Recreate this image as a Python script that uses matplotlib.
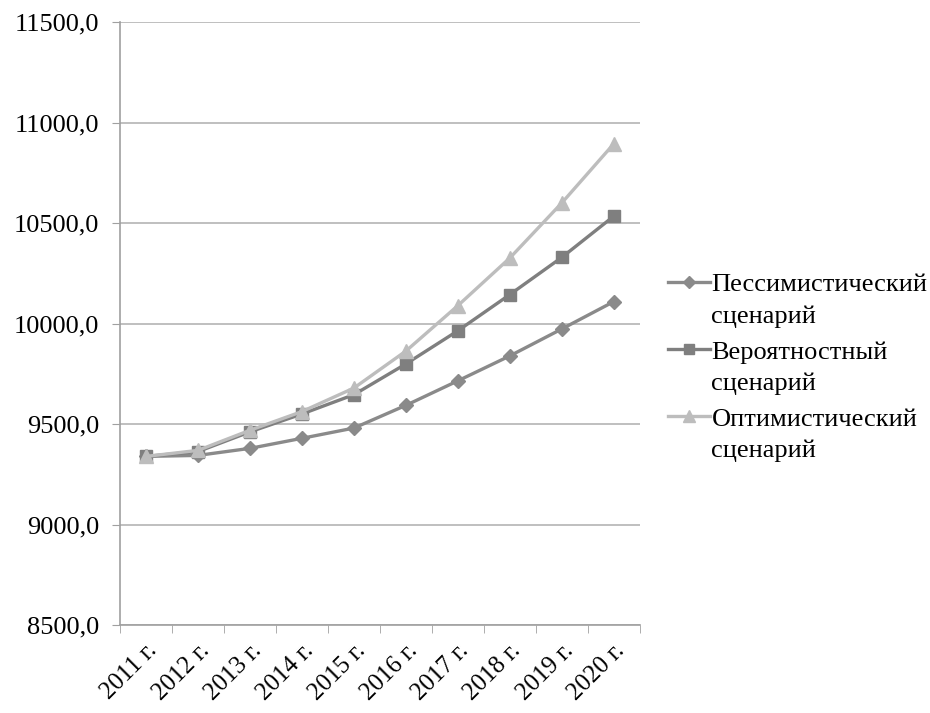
import numpy as np
import matplotlib
matplotlib.use('Agg')
import matplotlib.pyplot as plt
from matplotlib.legend_handler import HandlerLine2D

years = ['2011 г.', '2012 г.', '2013 г.', '2014 г.', '2015 г.',
         '2016 г.', '2017 г.', '2018 г.', '2019 г.', '2020 г.']
pessimistic = [9340, 9345, 9380, 9430, 9481, 9594, 9716, 9840, 9974, 10110]
probable = [9340, 9364, 9462, 9551, 9647, 9800, 9965, 10145, 10330, 10535]
optimistic = [9340, 9370, 9470, 9563, 9680, 9864, 10090, 10327, 10601, 10895]
labels = ['Пессимистический\nсценарий', 'Вероятностный\nсценарий',
          'Оптимистический\nсценарий']

plt.rcParams['font.family'] = ['Liberation Serif', 'DejaVu Serif']


# legend marker next to the first line of a two-line label, like Excel does
class FirstLineHandler(HandlerLine2D):
    def create_artists(self, legend, orig_handle, xdescent, ydescent,
                       width, height, fontsize, trans):
        return super().create_artists(legend, orig_handle, xdescent,
                                      ydescent - 27, width, height, fontsize, trans)


fig = plt.figure(figsize=(9.3, 7.13), dpi=100)
ax = fig.add_axes([0.129, 0.123, 0.559, 0.846])

x = np.arange(len(years))
l1, = ax.plot(x, pessimistic, color='#8a8a8a', lw=2.4, marker='D', ms=7, label=labels[0])
l2, = ax.plot(x, probable, color='#7f7f7f', lw=2.4, marker='s', ms=9, label=labels[1])
l3, = ax.plot(x, optimistic, color='#bdbdbd', lw=2.4, marker='^', ms=10, label=labels[2])

ax.set_xlim(-0.5, len(years) - 0.5)
ax.set_ylim(8500, 11500)
ax.set_yticks(np.arange(8500, 11501, 500))
ax.set_yticklabels([f'{v:.1f}'.replace('.', ',') for v in np.arange(8500, 11501, 500)],
                   fontsize=19)
ax.yaxis.grid(True, color='#b4b4b4', lw=1.2)
ax.set_axisbelow(True)

ax.set_xticks(x)
ax.set_xticklabels(years, fontsize=18, rotation=45, ha='right', rotation_mode='anchor')
ax.set_xticks(np.arange(-0.5, len(years)), minor=True)
ax.tick_params(axis='x', which='major', length=0, pad=10)
ax.tick_params(axis='x', which='minor', length=6, color='#a0a0a0')
ax.tick_params(axis='y', length=6, color='#a0a0a0', pad=9)

for s in ['top', 'right']:
    ax.spines[s].set_visible(False)
for s in ['left', 'bottom']:
    ax.spines[s].set_color('#a0a0a0')
    ax.spines[s].set_linewidth(1.2)

h = FirstLineHandler()
leg = ax.legend(loc='center left', bbox_to_anchor=(1.054, 0.426), frameon=False, fontsize=19,
                handlelength=1.6, handletextpad=0.05, labelspacing=0.52, borderaxespad=0,
                borderpad=0, handler_map={l1: h, l2: h, l3: h}, markerscale=0.85)
for t in leg.get_texts():
    t.set_linespacing(1.5)

fig.savefig('out.png', dpi=100)
